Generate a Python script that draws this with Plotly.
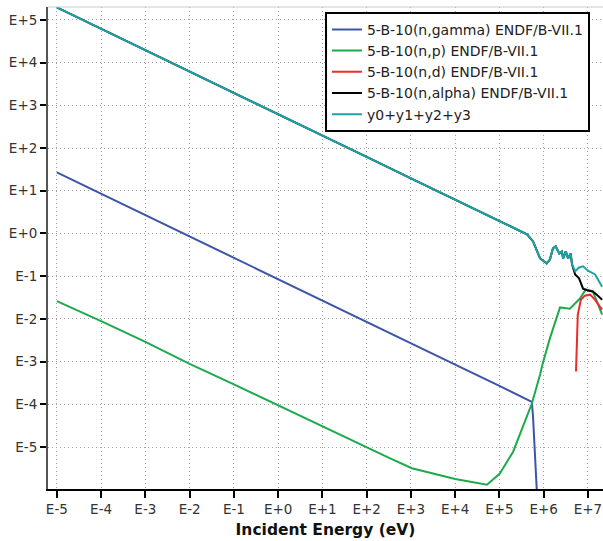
import plotly.graph_objects as go

# ---- data (energies in eV, cross sections in barns) ----
e_gamma = [1e-5, 1e-4, 1e-3, 1e-2, 1e-1, 1e0, 1e1, 1e2, 1e3, 1e4, 1e5, 5.4e5, 5.75e5, 6.3e5, 7.4e5]
y_gamma = [27, 8.5, 2.7, 0.85, 0.27, 0.085, 0.027, 8.5e-3, 2.7e-3, 8.5e-4, 2.7e-4, 1.15e-4, 5e-5, 1e-5, 3e-7]

e_p = [1e-5, 1e-4, 1e-3, 1e-2, 1e-1, 1e0, 1e1, 1e2, 3.3e2, 1.05e3, 1e4, 5.25e4, 1.02e5,
       2.04e5, 5.4e5, 8.3e5, 9.5e5, 1.38e6, 2.34e6, 3.9e6, 6.6e6, 8.9e6, 1.29e7, 2.09e7]
y_p = [2.6e-2, 8.9e-3, 2.9e-3, 8.9e-4, 2.95e-4, 9.5e-5, 3.0e-5, 1.0e-5, 5.5e-6, 3.2e-6, 1.8e-6, 1.32e-6, 2.4e-6,
       7.8e-6, 1.05e-4, 5.0e-4, 9.1e-4, 3.5e-3, 1.86e-2, 1.74e-2, 3.0e-2, 4.9e-2, 4.4e-2, 1.26e-2]

e_d = [5.37e6, 5.62e6, 5.89e6, 6.92e6, 8.5e6, 1.12e7, 1.45e7, 1.86e7, 2.09e7]
y_d = [5.9e-4, 5.0e-3, 1.26e-2, 2.8e-2, 3.5e-2, 3.7e-2, 2.8e-2, 1.95e-2, 1.66e-2]

e_tot = [1e-5, 1e-4, 1e-3, 1e-2, 1e-1, 1e0, 1e1, 1e2, 1e3, 1e4, 3.6e4, 1.02e5, 1.74e5, 4.2e5,
         5.75e5, 8.3e5, 1.17e6, 1.38e6, 1.62e6, 1.86e6, 2.24e6, 2.57e6, 2.75e6, 3.16e6, 3.55e6,
         4.07e6, 4.37e6, 5.13e6, 6.3e6, 7.76e6, 1.0e7, 1.45e7, 2.09e7]
y_tot = [1.95e5, 6.2e4, 1.95e4, 6.2e3, 1.95e3, 617, 195, 61.7, 19.5, 6.17, 3.2, 1.9, 1.45, 0.95,
         0.65, 0.26, 0.20, 0.245, 0.45, 0.50, 0.34, 0.38, 0.26, 0.38, 0.26,
         0.34, 0.19, 0.13, 0.16, 0.17, 0.135, 0.11, 0.057]

e_alpha = e_tot[:27] + [5.13e6, 6.3e6, 7.76e6, 1.0e7, 1.29e7, 1.58e7, 2.09e7]
y_alpha = y_tot[:27] + [0.11, 0.089, 0.051, 0.046, 0.044, 0.037, 0.028]

x_tickvals = [1e-5, 1e-4, 1e-3, 1e-2, 1e-1, 1e0, 1e1, 1e2, 1e3, 1e4, 1e5, 1e6, 1e7]
x_ticktext = ["E-5", "E-4", "E-3", "E-2", "E-1", "E+0", "E+1", "E+2", "E+3", "E+4", "E+5", "E+6", "E+7"]
y_tickvals = [1e-5, 1e-4, 1e-3, 1e-2, 1e-1, 1e0, 1e1, 1e2, 1e3, 1e4, 1e5]
y_ticktext = ["E-5", "E-4", "E-3", "E-2", "E-1", "E+0", "E+1", "E+2", "E+3", "E+4", "E+5"]

names = ["5-B-10(n,gamma) ENDF/B-VII.1", "5-B-10(n,p) ENDF/B-VII.1", "5-B-10(n,d) ENDF/B-VII.1",
         "5-B-10(n,alpha) ENDF/B-VII.1", "y0+y1+y2+y3"]
colors = ["#3a55a8", "#1daa4c", "#ee2a2a", "#000000", "#1ca3a6"]

fig = go.Figure()
series = [(e_gamma, y_gamma), (e_p, y_p), (e_d, y_d), (e_alpha, y_alpha), (e_tot, y_tot)]
for (ex, ey), nm, c in zip(series, names, colors):
    fig.add_trace(go.Scatter(x=ex, y=ey, mode="lines", name=nm,
                             line=dict(color=c, width=2)))

font = "DejaVu Sans, Verdana, sans-serif"
fig.update_layout(
    width=603, height=541,
    margin=dict(l=48, r=0, t=7, b=52),
    plot_bgcolor="white", paper_bgcolor="white",
    font=dict(family=font, size=13.5, color="#333"),
    showlegend=True,
    legend=dict(x=0.499, y=0.99, xanchor="left", yanchor="top",
                bgcolor="white", bordercolor="black", borderwidth=2,
                font=dict(size=14, color="#222"), traceorder="normal"),
    xaxis=dict(type="log", range=[-5.2, 7.34], tickvals=x_tickvals, ticktext=x_ticktext,
               ticks="outside", ticklen=7, tickwidth=2, tickcolor="black",
               showline=True, linecolor="black", linewidth=2,
               showgrid=True, gridcolor="#a0a0a0", griddash="1px,3px", gridwidth=1,
               zeroline=False,
               title=dict(text="<b>Incident Energy (eV)</b>", font=dict(size=15.5, color="#111"), standoff=8)),
    yaxis=dict(type="log", range=[-5.98, 5.3], tickvals=y_tickvals, ticktext=y_ticktext,
               ticks="outside", ticklen=6, tickwidth=2, tickcolor="black",
               showline=True, linecolor="#555", linewidth=2,
               showgrid=True, gridcolor="#a0a0a0", griddash="1px,3px", gridwidth=1,
               zeroline=False),
    shapes=[dict(type="line", xref="paper", yref="paper", x0=0, x1=1, y0=1, y1=1,
                 line=dict(color="#cccccc", width=1))],
)

fig.write_html("out.html")
